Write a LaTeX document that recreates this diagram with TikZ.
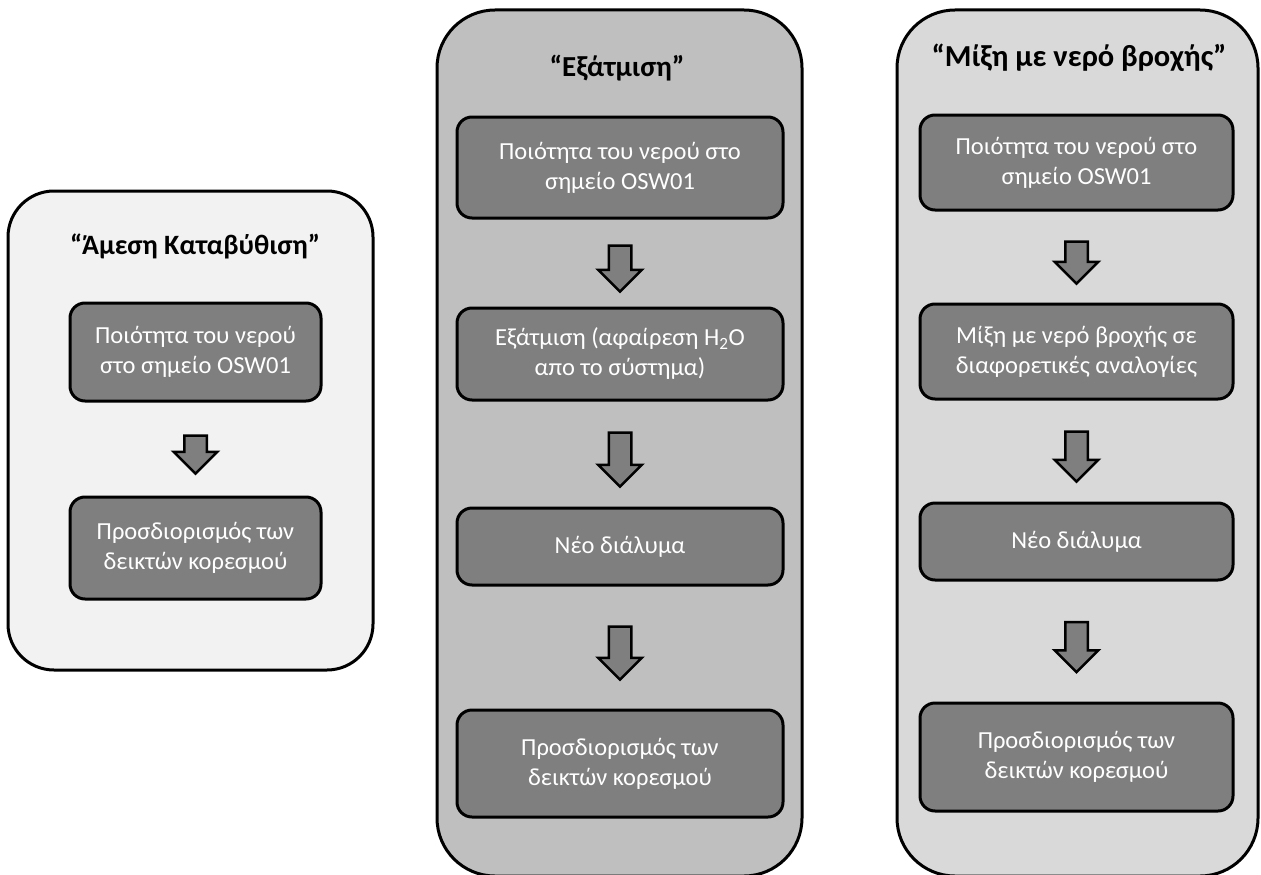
\documentclass[tikz,border=0pt]{standalone}
\usepackage{fontspec}
\setmainfont{Carlito}
\usetikzlibrary{shapes.arrows,calc}
\definecolor{boxgray}{HTML}{7F7F7F}
\definecolor{lgray}{HTML}{F2F2F2}
\definecolor{mgray}{HTML}{BFBFBF}
\definecolor{rgray}{HTML}{D9D9D9}
\begin{document}
\begin{tikzpicture}[x=1pt,y=-1pt,
  cont/.style={draw=black, line width=3pt, rounded corners=#1, inner sep=0pt},
  box/.style={draw=black, line width=3pt, fill=boxgray, rounded corners=15pt,
    text=white, align=center, font=\fontsize{24.5}{30}\selectfont, inner sep=0pt},
  ttl/.style={font=\bfseries\fontsize{#1}{33}\selectfont, inner sep=0pt},
  barrow/.style={single arrow, draw=black, line width=2.5pt, fill=boxgray,
    rotate=-90, inner xsep=0pt, inner ysep=10pt, single arrow head extend=10.5pt,
    minimum width=0pt, single arrow head indent=0pt}]
\useasboundingbox (0,0) rectangle (1261,875);
\clip (0,0) rectangle (1261,875);
% left column
\node[cont=46pt, fill=lgray, minimum width=365pt, minimum height=479pt] (L) at (190.5,430.5) {};
\node[ttl=28] (tL) at (195,246) {“Άμεση Καταβύθιση”};
\node[box, minimum width=251pt, minimum height=98pt] (l1) at (195.5,352) {Ποιότητα του νερού\\στο σημείο OSW01};
\node[box, minimum width=251pt, minimum height=102pt] (l2) at (195.5,548) {Προσδιορισμός των\\δεικτών κορεσμού};
\node[barrow, minimum height=38pt] (la) at ($(l1.south)!0.5!(l2.north)$) {};
% middle column
\node[cont=58pt, fill=mgray, minimum width=365pt, minimum height=866pt] (M) at (619.5,443) {};
\node[ttl=29] (tM) at (617,68) {“Εξάτμιση”};
\node[box, minimum width=326pt, minimum height=101pt] (m1) at (620,167.5) {Ποιότητα του νερού στο\\σημείο OSW01};
\node[box, minimum width=326pt, minimum height=92pt] (m2) at (620,354) {Εξάτμιση (αφαίρεση H\textsubscript{2}O\\απο το σύστημα)};
\node[box, minimum width=326pt, minimum height=77pt] (m3) at (620,546.5) {Νέο διάλυμα};
\node[box, minimum width=326pt, minimum height=107pt] (m4) at (620,763.5) {Προσδιορισμός των\\δεικτών κορεσμού};
\node[barrow, minimum height=46pt] (ma1) at ($(m1.south)!0.5!(m2.north)$) {};
\node[barrow, minimum height=54pt] (ma2) at ($(m2.south)!0.5!(m3.north)$) {};
\node[barrow, minimum height=53pt] (ma3) at ($(m3.south)!0.5!(m4.north)$) {};
% right column
\node[cont=58pt, fill=rgray, minimum width=361pt, minimum height=866pt] (R) at (1077.5,443) {};
\node[ttl=30.5] (tR) at (1079,58) {“Μίξη με νερό βροχής”};
\node[box, minimum width=313pt, minimum height=95pt] (r1) at (1076.5,162.5) {Ποιότητα του νερού στο\\σημείο OSW01};
\node[box, minimum width=313pt, minimum height=95pt] (r2) at (1076.5,351.5) {Μίξη με νερό βροχής σε\\διαφορετικές αναλογίες};
\node[box, minimum width=313pt, minimum height=77pt] (r3) at (1076.5,541.5) {Νέο διάλυμα};
\node[box, minimum width=313pt, minimum height=108pt] (r4) at (1076.5,757) {Προσδιορισμός των\\δεικτών κορεσμού};
\node[barrow, minimum height=42pt] (ra1) at ($(r1.south)!0.5!(r2.north)$) {};
\node[barrow, minimum height=50pt] (ra2) at ($(r2.south)!0.5!(r3.north)$) {};
\node[barrow, minimum height=50pt] (ra3) at ($(r3.south)!0.5!(r4.north)$) {};
\end{tikzpicture}
\end{document}
